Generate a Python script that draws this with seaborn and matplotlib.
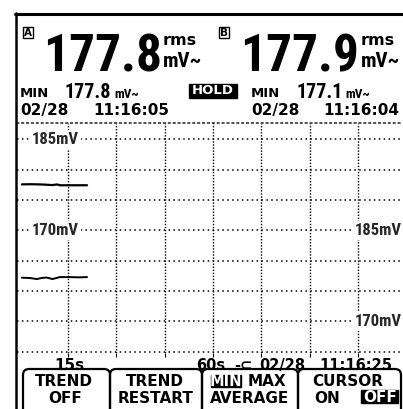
import matplotlib
matplotlib.use("Agg")
import matplotlib.pyplot as plt
import matplotlib.transforms as mtransforms
from matplotlib import font_manager
from matplotlib.patches import Rectangle, PathPatch
from matplotlib.path import Path
from matplotlib.lines import Line2D
import seaborn as sns

# Readings shown in the header
reading_a = "177.8"
reading_b = "177.9"
min_a = "177.8"
min_b = "177.1"
min_a_date, min_a_time = "02/28", "11:16:05"
min_b_date, min_b_time = "02/28", "11:16:04"

# Trend traces (seconds, mV)
time_a = [0.7, 3.2, 5.7, 7.9, 10.1, 11.6, 12.5, 15.6, 18.7, 20.9]
trend_a = [177.6, 177.62, 177.6, 177.55, 177.48, 177.58, 177.45, 177.45, 177.45, 177.45]
time_b = [0.7, 3.2, 5.3, 6.8, 8.3, 10.2, 12.4, 15.5, 18.6, 20.9]
trend_b = [177.2, 177.15, 176.98, 177.15, 177.23, 176.98, 177.3, 177.3, 177.26, 177.3]

# Scales: 5 mV/div, 15 s/div
time_ticks = [15, 30, 45, 60, 75, 90, 105]
mv_ticks_a = [150, 155, 160, 165, 170, 175, 180, 185]
scale_a = [(185, "185mV"), (170, "170mV")]
scale_b = [(185, "185mV"), (170, "170mV")]
time_div = "15s"
span_label = "60s"
now_date, now_time = "02/28", "11:16:25"

softkeys = [("TREND", "OFF"), ("TREND", "RESTART"), ("MIN MAX", "AVERAGE"), ("CURSOR", "ON OFF")]

# fonts
names = {f.name for f in font_manager.fontManager.ttflist}
NARROW = next((n for n in ["Liberation Sans Narrow", "Roboto Condensed", "DejaVu Sans"] if n in names), "DejaVu Sans")
WIDE = "DejaVu Sans"

sns.set_style("white")
W, H = 403, 409
fig = plt.figure(figsize=(W / 100, H / 100), dpi=100)
fig.patch.set_facecolor("white")
# pixel coordinates, y downward
px = mtransforms.Affine2D().scale(1 / W, -1 / H).translate(0, 1) + fig.transFigure


def label(x, y, s, size, ha="left", va="baseline", family=WIDE, color="black", **kw):
    fig.text(x, y, s, transform=px, fontsize=size, ha=ha, va=va, family=family,
             fontweight="bold", color=color, **kw)


# plot area
left, right, top, bottom = 17, 403, 123, 353
ax = fig.add_axes([left / W, 1 - bottom / H, (right - left) / W, (bottom - top) / H])
ax2 = ax.twinx()

ax.set_xlim(-0.84, 118.98)
ax.set_ylim(149.78, 187.72)
ax2.set_ylim(164.78, 202.72)

sns.lineplot(x=time_a, y=trend_a, ax=ax, color="black", linewidth=1.6)
sns.lineplot(x=time_b, y=trend_b, ax=ax2, color="black", linewidth=1.4)

ax.set_xticks(time_ticks)
ax.set_yticks(mv_ticks_a)
ax.xaxis.grid(True, color="black", linewidth=1.0, linestyle=(0, (1, 1.2)))
ax.yaxis.grid(True, color="black", linewidth=1.1, linestyle=(0, (1, 2.2)))
ax.tick_params(axis="x", direction="out", length=3, width=0.8, color="black",
               labelbottom=False, bottom=True)
ax.tick_params(axis="y", length=0, labelleft=False)
ax2.tick_params(length=0, labelright=False)
ax.set_xlabel("")
ax.set_ylabel("")
ax2.set_ylabel("")
for a in (ax, ax2):
    for s in a.spines.values():
        s.set_visible(False)
ax.spines["top"].set_visible(True)
ax.spines["top"].set_linestyle((0, (1, 2.2)))
ax.spines["top"].set_linewidth(1.1)
ax.patch.set_alpha(0)

box = dict(facecolor="white", edgecolor="none", pad=1.5)
for v, s in scale_a:
    ax.text(0.039, v, s, transform=ax.get_yaxis_transform(), ha="left", va="center",
            fontsize=12, fontweight="bold", family=NARROW, fontstretch="condensed", bbox=box)
for v, s in scale_b:
    ax2.text(0.998, v, s, transform=ax2.get_yaxis_transform(), ha="right", va="center",
             fontsize=12, fontweight="bold", family=NARROW, fontstretch="condensed", bbox=box)

# screen frame
fig.add_artist(Line2D([15, 403], [13.5, 13.5], transform=px, color="black", linewidth=2.2))
fig.add_artist(Line2D([15.5, 15.5], [12.5, 409], transform=px, color="black", linewidth=1.8))

# header: channel readings
for x0, ch, val, xr in [(22.5, "A", reading_a, 163), (219, "B", reading_b, 361)]:
    fig.add_artist(Rectangle((x0, 27), 10, 11, transform=px, fill=False, edgecolor="black", linewidth=1))
    label(x0 + 5, 36.5, ch, 7.5, ha="center")
    label(x0 + 21, 72, val, 37, family=NARROW, fontstretch="condensed")
    label(xr, 45, "rms", 11.5)
    label(xr, 67, "mV~", 15, family=NARROW, fontstretch="condensed")

# header: min readings
for xm, val, xd, d, xt, t in [(20, min_a, 20, min_a_date, 93, min_a_time),
                               (251, min_b, 251, min_b_date, 323, min_b_time)]:
    label(xm, 97, "MIN", 9.5)
    label(xm + 45, 98, val, 14.5, family=NARROW, fontstretch="condensed")
    label(xm + 94, 98, "mV~", 9.5, family=NARROW, fontstretch="condensed")
    label(xd, 115, d, 11)
    label(xt, 115, t, 11)

fig.add_artist(Rectangle((189, 84), 48, 14, transform=px, facecolor="black", edgecolor="black"))
label(213, 91, "HOLD", 9.5, ha="center", va="center", color="white")

# time base row
label(69, 370, time_div, 11, ha="center")
label(211, 370, span_label, 10.5, ha="center")
label(243, 370, "-\u2282", 10.5, ha="center")
label(259, 370, now_date, 10.5)
label(319, 370, now_time, 10.5)

# softkeys
key_top, key_bot, r = 369, 420, 6
edges = [(23, 110), (110, 202), (202, 298), (298, 401)]
for l, rr in edges:
    verts = [(l, key_bot), (l, key_top + r), (l, key_top), (l + r, key_top),
             (rr - r, key_top), (rr, key_top), (rr, key_top + r), (rr, key_bot)]
    codes = [Path.MOVETO, Path.LINETO, Path.CURVE3, Path.CURVE3,
             Path.LINETO, Path.CURVE3, Path.CURVE3, Path.LINETO]
    fig.add_artist(PathPatch(Path(verts, codes), transform=px, fill=False,
                             edgecolor="black", linewidth=1.6))

label(64, 386, softkeys[0][0], 11, ha="center")
label(65, 403, softkeys[0][1], 11, ha="center")
label(155, 386, softkeys[1][0], 11, ha="center")
label(156, 403, softkeys[1][1], 11, ha="center")
mn, mx = softkeys[2][0].split()
fig.add_artist(Rectangle((211, 375), 30, 12, transform=px, facecolor="black", edgecolor="black"))
label(226, 386, mn, 10.5, ha="center", color="white")
label(267, 386, mx, 11, ha="center")
label(250, 403, softkeys[2][1], 11, ha="center")
label(348, 386, softkeys[3][0], 11, ha="center")
on, off = softkeys[3][1].split()
label(327, 403, on, 11, ha="center")
fig.add_artist(Rectangle((361, 390), 37, 13, transform=px, facecolor="black", edgecolor="black"))
label(380, 402, off, 11, ha="center", color="white")

fig.savefig("out.png", dpi=100, facecolor="white")
